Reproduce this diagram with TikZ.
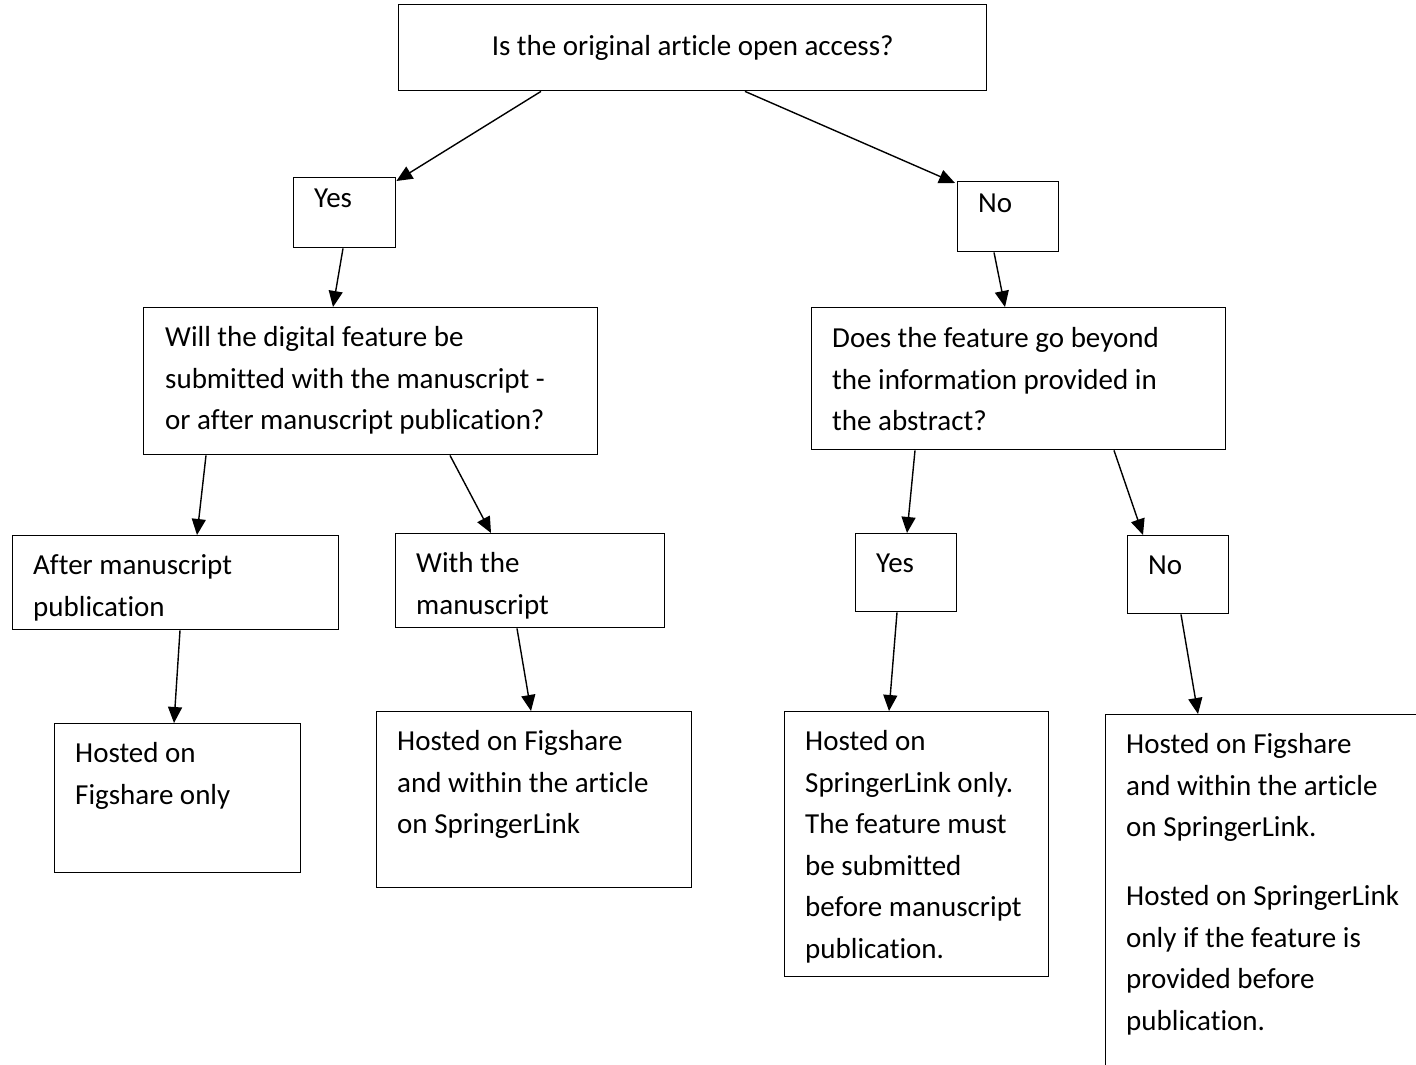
\documentclass[tikz,border=0pt]{standalone}
\usepackage{fontspec}
\setmainfont{Carlito}[Ligatures={NoCommon}]
\usetikzlibrary{arrows.meta}
\begin{document}
\begin{tikzpicture}[x=1pt,y=-1pt,
  box/.style={draw=black, line width=1.4pt, rectangle, inner sep=0pt, anchor=north west},
  txt/.style={anchor=base west, inner sep=0pt, text width=420pt, align=flush left,
     font=\fontsize{29}{41.5}\selectfont},
  arr/.style={line width=1.4pt, -{Triangle[length=16pt,width=14pt]}}]
\useasboundingbox (0,0) rectangle (1416,1065);
\clip (0,0) rectangle (1416,1065);
% boxes
\node[box, minimum width=588pt, minimum height=86pt, font=\fontsize{29}{41.5}\selectfont] (top) at (398,4) {Is the original article open access?};
\node[box, minimum width=102pt, minimum height=70pt] (yesA) at (293,177) {};
\node[box, minimum width=101pt, minimum height=70pt] (noA) at (957,181) {};
\node[box, minimum width=454pt, minimum height=147pt] (qL) at (143,307) {};
\node[box, minimum width=414pt, minimum height=142pt] (qR) at (811,307) {};
\node[box, minimum width=326pt, minimum height=94pt] (after) at (12,535) {};
\node[box, minimum width=269pt, minimum height=94pt] (with) at (395,533) {};
\node[box, minimum width=101pt, minimum height=78pt] (yesB) at (855,533) {};
\node[box, minimum width=101pt, minimum height=78pt] (noB) at (1127,535) {};
\node[box, minimum width=246pt, minimum height=149pt] (fig) at (54,723) {};
\node[box, minimum width=315pt, minimum height=176pt] (figw) at (376,711) {};
\node[box, minimum width=264pt, minimum height=265pt] (sl) at (784,711) {};
\node[box, minimum width=400pt, minimum height=420pt] (both) at (1105,714) {};
% texts
\node[txt] (yesA-t) at ([shift={(21,30.5)}]yesA.north west) {Yes};
\node[txt] (noA-t) at ([shift={(21,31.5)}]noA.north west) {No};
\node[txt] (qL-t) at ([shift={(22,39.5)}]qL.north west) {Will the digital feature be\\submitted with the manuscript -\\or after manuscript publication?};
\node[txt] (qR-t) at ([shift={(21,40.5)}]qR.north west) {Does the feature go beyond\\the information provided in\\the abstract?};
\node[txt] (after-t) at ([shift={(21,39.5)}]after.north west) {After manuscript\\publication};
\node[txt] (with-t) at ([shift={(21,39.5)}]with.north west) {With the\\manuscript};
\node[txt] (yesB-t) at ([shift={(21,39.5)}]yesB.north west) {Yes};
\node[txt] (noB-t) at ([shift={(21,39.5)}]noB.north west) {No};
\node[txt] (fig-t) at ([shift={(21,39.5)}]fig.north west) {Hosted on\\Figshare only};
\node[txt] (figw-t) at ([shift={(21,39.5)}]figw.north west) {Hosted on Figshare\\and within the article\\on SpringerLink};
\node[txt] (sl-t) at ([shift={(21,39.5)}]sl.north west) {Hosted on\\SpringerLink only.\\The feature must\\be submitted\\before manuscript\\publication.};
\node[txt] (both-t) at ([shift={(21,39.5)}]both.north west) {Hosted on Figshare\\and within the article\\on SpringerLink.\\[27.5pt]Hosted on SpringerLink\\only if the feature is\\provided before\\publication.};
% connectors
\draw[arr] ([xshift=143pt]top.south west) -- ([yshift=-4pt]yesA.north east);
\draw[arr] ([xshift=347pt]top.south west) -- ([xshift=-2pt,yshift=-2pt]noA.north west);
\draw[arr] ([xshift=50pt]yesA.south west) -- ([xshift=190pt]qL.north west);
\draw[arr] ([xshift=37pt]noA.south west) -- ([xshift=194pt]qR.north west);
\draw[arr] ([xshift=63pt]qL.south west) -- ([xshift=185pt]after.north west);
\draw[arr] ([xshift=307pt]qL.south west) -- ([xshift=96pt]with.north west);
\draw[arr] ([xshift=104pt]qR.south west) -- ([xshift=52pt]yesB.north west);
\draw[arr] ([xshift=303pt]qR.south west) -- ([xshift=16pt]noB.north west);
\draw[arr] ([xshift=168pt]after.south west) -- ([xshift=120pt]fig.north west);
\draw[arr] ([xshift=122pt]with.south west) -- ([xshift=155pt]figw.north west);
\draw[arr] ([xshift=42pt]yesB.south west) -- ([xshift=105pt]sl.north west);
\draw[arr] ([xshift=54pt]noB.south west) -- ([xshift=93pt]both.north west);
\end{tikzpicture}
\end{document}
